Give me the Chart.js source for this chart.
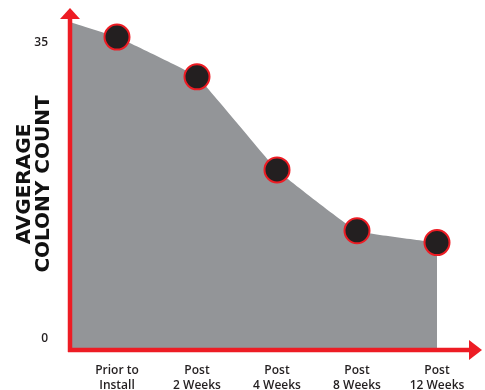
<!DOCTYPE html>
<html>
<head>
<meta charset="utf-8">
<script src="https://cdn.jsdelivr.net/npm/chart.js@4.4.0/dist/chart.umd.min.js"></script>
<style>
  html, body { margin: 0; padding: 0; background: #fff; }
  #wrap { width: 485px; height: 390px; }
</style>
</head>
<body>
<div id="wrap"><canvas id="colonyChart" width="485" height="390"></canvas></div>
<script>
// data
const categories = [['Prior to', 'Install'], ['Post', '2 Weeks'], ['Post', '4 Weeks'], ['Post', '8 Weeks'], ['Post', '12 Weeks']];
const colonyCounts = [35.7, 31.0, 20.0, 12.8, 11.4];
const startLevel = 37.5;   // where the shaded area meets the y axis
const yTicks = [0, 35];

const RED = '#ed1c24';
const GREY = '#939598';
const DOT = '#231f20';

const xMin = 0.4125, xMax = 5.4125;
const points = [{ x: xMin, y: startLevel }].concat(colonyCounts.map((v, i) => ({ x: i + 1, y: v })));

// red axes with arrow heads
const arrowAxes = {
    id: 'arrowAxes',
    afterDraw(chart) {
        const { ctx, chartArea: a } = chart;
        ctx.save();
        ctx.strokeStyle = RED;
        ctx.fillStyle = RED;
        ctx.lineWidth = 4.5;
        ctx.beginPath();
        ctx.moveTo(a.left, a.bottom + 2);
        ctx.lineTo(a.left, a.top);
        ctx.moveTo(a.left - 2, a.bottom);
        ctx.lineTo(a.right, a.bottom);
        ctx.stroke();
        ctx.beginPath();
        ctx.moveTo(a.left - 10, a.top + 1);
        ctx.lineTo(a.left, a.top - 10);
        ctx.lineTo(a.left + 10, a.top + 1);
        ctx.closePath();
        ctx.fill();
        ctx.beginPath();
        ctx.moveTo(a.right - 1, a.bottom - 10);
        ctx.lineTo(a.right + 12, a.bottom);
        ctx.lineTo(a.right - 1, a.bottom + 10);
        ctx.closePath();
        ctx.fill();
        ctx.restore();
    }
};

new Chart(document.getElementById('colonyChart').getContext('2d'), {
    type: 'line',
    data: {
        datasets: [{
            data: points,
            fill: 'start',
            backgroundColor: GREY,
            borderWidth: 0,
            borderColor: GREY,
            tension: 0.08,
            pointRadius: points.map((p, i) => i === 0 ? 0 : 12.5),
            pointBackgroundColor: DOT,
            pointBorderColor: RED,
            pointBorderWidth: 2,
            clip: false
        }]
    },
    options: {
        responsive: false,
        animation: false,
        events: [],
        layout: { padding: { top: 18, right: 15, left: 0, bottom: 0 } },
        plugins: { legend: { display: false }, tooltip: { enabled: false } },
        scales: {
            x: {
                type: 'linear',
                min: xMin,
                max: xMax,
                grid: { display: false, drawTicks: false },
                border: { display: false },
                afterBuildTicks: s => { s.ticks = categories.map((c, i) => ({ value: i + 1 })); },
                afterFit: s => { s.height = 40; s.paddingLeft = 0; s.paddingRight = 0; },
                ticks: {
                    autoSkip: false,
                    maxRotation: 0,
                    padding: 13,
                    color: '#231f20',
                    font: { family: 'Open Sans', size: 12, weight: '600', lineHeight: 1.25 },
                    callback: v => categories[v - 1]
                }
            },
            y: {
                min: -1.3,
                max: 37.96,
                grid: { display: false, drawTicks: false },
                border: { display: false },
                afterBuildTicks: s => { s.ticks = yTicks.map(v => ({ value: v })); },
                afterFit: s => { s.width = 70; s.paddingTop = 0; s.paddingBottom = 0; },
                ticks: {
                    padding: 22,
                    color: '#231f20',
                    font: { family: 'Open Sans', size: 12, weight: '600' }
                },
                title: {
                    display: true,
                    text: ['AVGERAGE', 'COLONY COUNT'],
                    color: '#111',
                    padding: { top: 15, bottom: 0 },
                    font: { family: 'DejaVu Sans', size: 20, weight: 'bold', lineHeight: 0.95 }
                }
            }
        }
    },
    plugins: [arrowAxes]
});
</script>
</body>
</html>
